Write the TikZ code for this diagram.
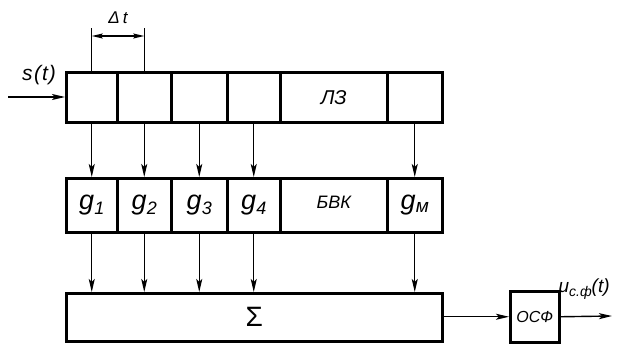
\documentclass[tikz,border=0pt]{standalone}
\usepackage{fontspec}
\setmainfont{Liberation Sans}
\usetikzlibrary{arrows.meta}
\newcommand{\lbl}[1]{\itshape\fontsize{#1}{#1}\selectfont}
\begin{document}
\begin{tikzpicture}[x=1pt,y=-1pt,
  cell/.style={draw,line width=2.5pt,inner sep=0pt,anchor=north west,font=\lbl{18}},
  arr/.style={line width=1.4pt,-{Stealth[length=13pt,width=6pt,inset=3pt]}},
  gl/.style={font=\lbl{27}}]
\useasboundingbox (0,0) rectangle (631,345);
% delay line
\node[cell,minimum width=51,minimum height=50] (t1) at (65,71) {};
\node[cell,minimum width=54,minimum height=50] (t2) at (116,71) {};
\node[cell,minimum width=56,minimum height=50] (t3) at (170,71) {};
\node[cell,minimum width=53,minimum height=50] (t4) at (226,71) {};
\node[cell,minimum width=107,minimum height=50,font=\lbl{20}] (t5) at (279,71) {ЛЗ};
\node[cell,minimum width=55,minimum height=50] (t6) at (386,71) {};
% weighting block
\node[cell,minimum width=51,minimum height=54] (m1) at (65,177) {};
\node[cell,minimum width=54,minimum height=54] (m2) at (116,177) {};
\node[cell,minimum width=56,minimum height=54] (m3) at (170,177) {};
\node[cell,minimum width=53,minimum height=54] (m4) at (226,177) {};
\node[cell,minimum width=107,minimum height=54] (m5) at (279,177) {\raisebox{5pt}{БВК}};
\node[cell,minimum width=55,minimum height=54] (m6) at (386,177) {};
\node[gl] at (m1) {g\raisebox{-5pt}{\lbl{18}1}};
\node[gl] at (m2) {g\raisebox{-5pt}{\lbl{18}2}};
\node[gl] at (m3) {g\raisebox{-5pt}{\lbl{18}3}};
\node[gl] at (m4) {g\raisebox{-5pt}{\lbl{18}4}};
\node[gl] at (m6) {g\raisebox{-3pt}{\lbl{19}м}};
% summer and filter
\node[cell,minimum width=376,minimum height=48,font=\fontsize{28}{28}\selectfont] (sum) at (65,292) {Σ};
\node[cell,minimum width=49,minimum height=51,font=\lbl{16}] (osf) at (509,290) {ОСФ};
% connections
\foreach \i in {1,2,3,4,6}{
  \draw[arr] (t\i.south) -- (m\i.north);
  \draw[arr] (m\i.south) -- (m\i.south |- sum.north);
}
\draw[arr] (sum.east |- osf.west) -- (osf.west);
\coordinate (in) at (8,97);
\draw[arr] (in) -- (t1.west |- in);
\coordinate (out) at (612,316);
\draw[arr] (osf.east) -- (out);
% time step dimension
\coordinate (d1) at (t1.north |- 0,28);
\coordinate (d2) at (t2.north |- 0,28);
\draw[line width=1.3pt] (t1.north) -- (d1) (t2.north) -- (d2);
\draw[line width=1.3pt,{Stealth[length=11pt,width=5pt,inset=2pt]}-{Stealth[length=11pt,width=5pt,inset=2pt]}] ([yshift=-8]d1) -- ([yshift=-8]d2);
\node[font=\lbl{17}] (dt) at (118,18) {Δ\kern3pt t};
% labels
\node[font=\lbl{21}] (s) at (39,75) {s\kern1.5pt(\kern1pt t\kern1pt)};
\node[font=\lbl{19},anchor=west] (u) at (555,289) {u\raisebox{-4pt}{\lbl{14}с.ф}(t)};
\end{tikzpicture}
\end{document}
